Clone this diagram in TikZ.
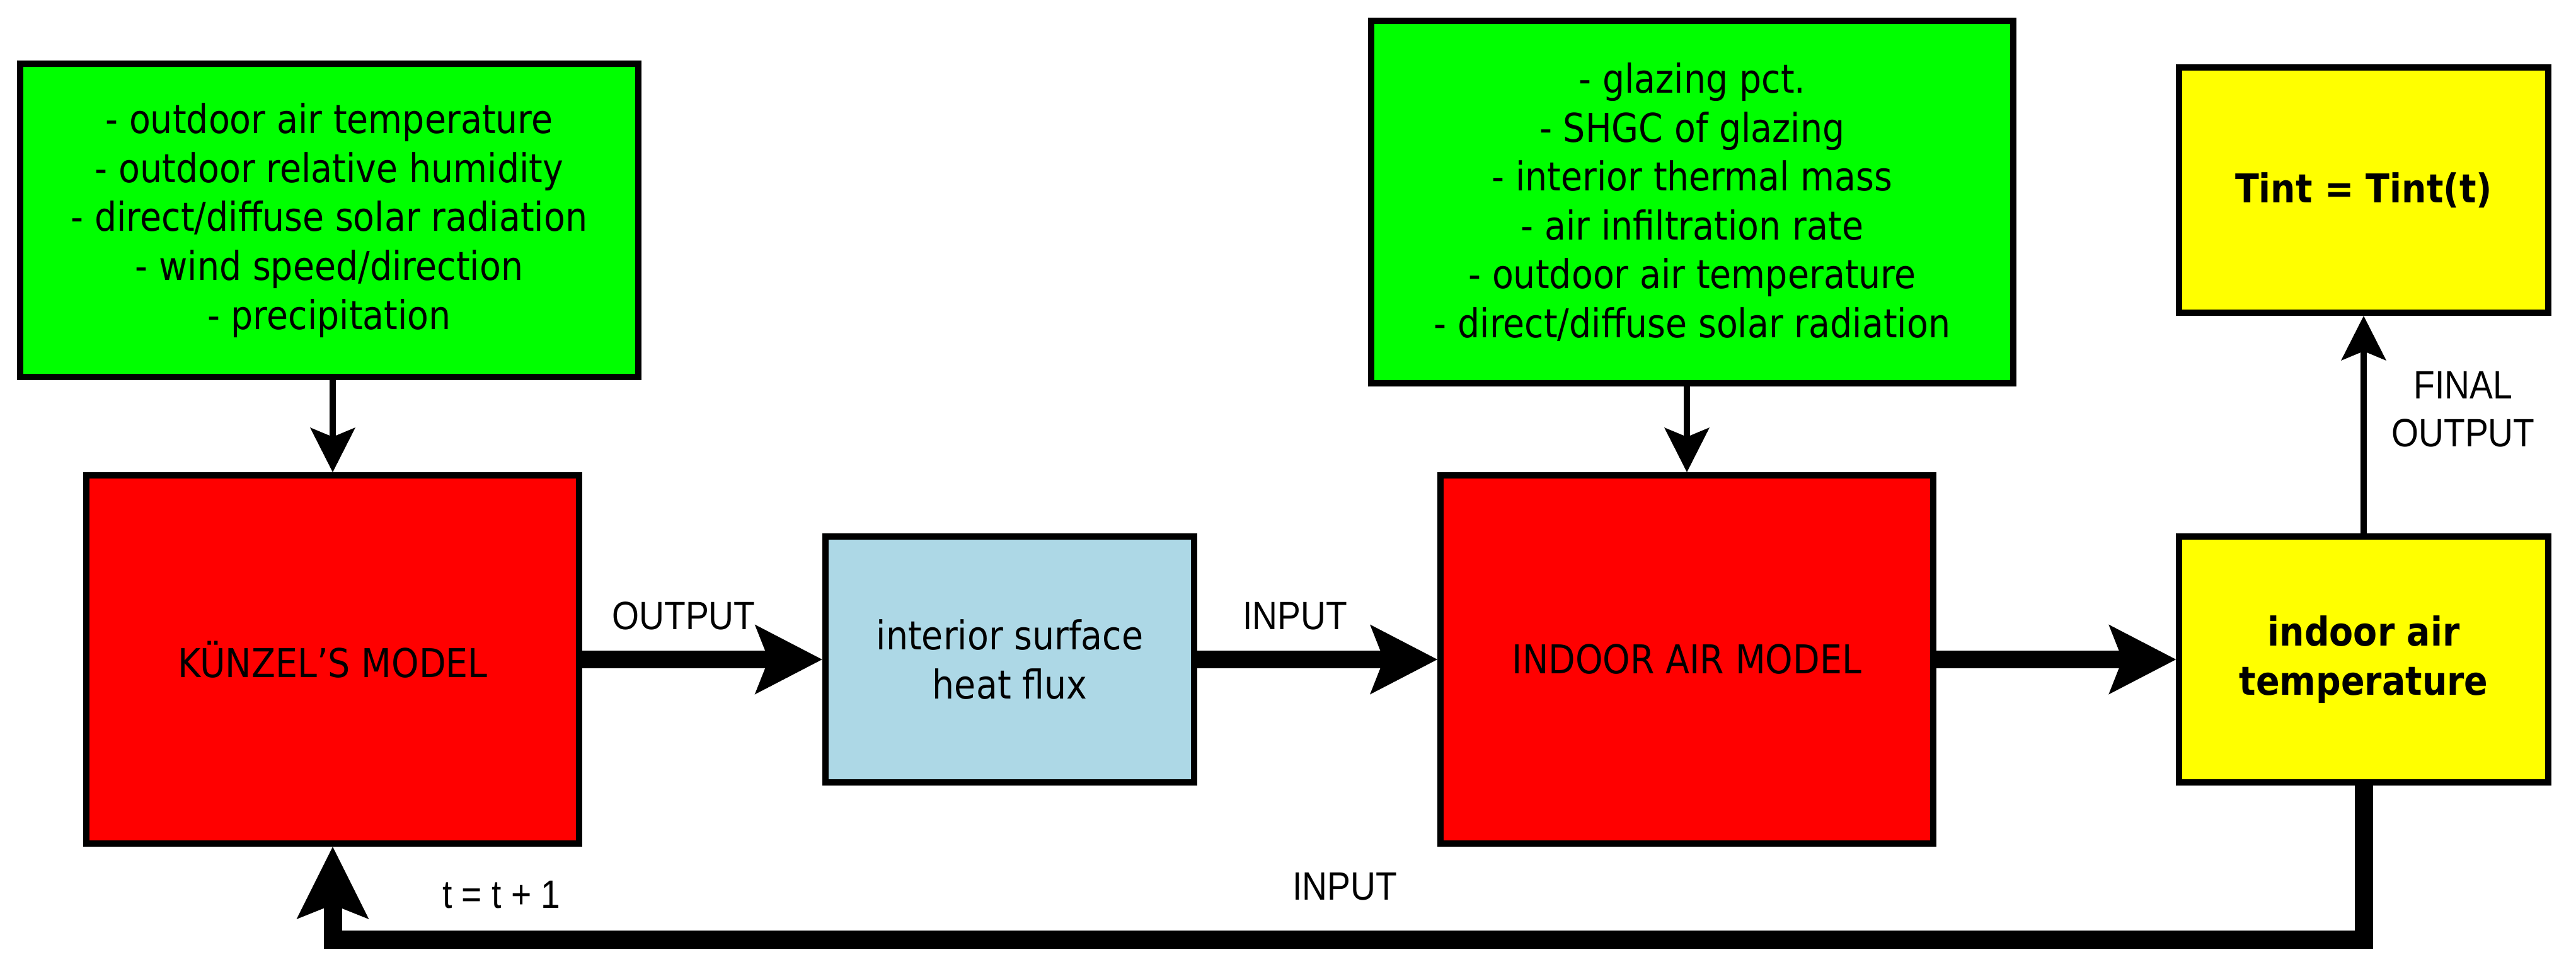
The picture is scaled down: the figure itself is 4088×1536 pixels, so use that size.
\documentclass[tikz,border=0pt]{standalone}
\usepackage{fontspec}
\setmainfont{DejaVu Sans}[FakeStretch=0.88]
\newfontfamily\labfont{Liberation Sans}[FakeStretch=0.88]
\usetikzlibrary{arrows.meta}
\definecolor{cgreen}{RGB}{0,255,0}
\definecolor{cred}{RGB}{255,0,0}
\definecolor{cblue}{RGB}{173,216,230}
\definecolor{cyellow}{RGB}{255,255,0}
\tikzset{
  box/.style={draw=black, line width=2.5pt, inner sep=0pt, align=center,
    font=\fontsize{15.75pt}{19.4pt}\selectfont},
  bigbox/.style={box, minimum width=195.5pt, minimum height=146pt, fill=cred},
  smallbox/.style={box, minimum width=146.4pt, minimum height=97.5pt},
  lab/.style={inner sep=0pt, align=center, font=\labfont\fontsize{15.7pt}{19pt}\selectfont},
  thinarrow/.style={line width=2.4pt, -{Stealth[length=17.75pt, width=18pt, inset=3.75pt, line width=0pt]}},
  thickarrow/.style={line width=7pt, -{Stealth[length=26.75pt, width=27.75pt, inset=5.5pt, line width=0pt]}},
  fbarrow/.style={line width=7.25pt, line join=miter, -{Stealth[length=28.75pt, width=28.75pt, inset=5.75pt, line width=0pt]}}
}
\begin{document}
\begin{tikzpicture}[x=0.25pt, y=-0.25pt]
\useasboundingbox (0,0) rectangle (4088,1536);

% boxes
\node[box, fill=cgreen, minimum width=245.25pt, minimum height=124.25pt] (g1) at (522.5,349.5)
  {- outdoor air temperature\\- outdoor relative humidity\\- direct/diffuse solar radiation\\- wind speed/direction\\- precipitation};
\node[bigbox] (kun) at (528,1046) {K\"UNZEL{\char"0027}S MODEL};
\node[smallbox, fill=cblue] (flux) at (1602.5,1046) {interior surface\\heat flux};
\node[bigbox] (ind) at (2677,1046) {INDOOR AIR MODEL};
\node[box, fill=cgreen, minimum width=254.75pt, minimum height=143.75pt] (g2) at (2685.5,320.5)
  {- glazing pct.\\- SHGC of glazing\\- interior thermal mass\\- air infiltration rate\\- outdoor air temperature\\- direct/diffuse solar radiation};
\node[smallbox, fill=cyellow, font=\bfseries\fontsize{15.75pt}{19.4pt}\selectfont] (yel) at (3751,1046) {indoor air\\temperature};
\node[smallbox, fill=cyellow, minimum height=97.25pt, font=\bfseries\fontsize{15.75pt}{19.4pt}\selectfont] (tint) at (3751,301.5) {Tint = Tint(t)};

% labels
\node[lab, anchor=base] (lout) at (1085,998) {OUTPUT};
\node[lab, anchor=base] (lin1) at (2055,998) {INPUT};
\node[lab, anchor=north] (lfin) at (3909,588) {FINAL\\OUTPUT};
\node[lab, anchor=base] (lt) at (796,1440) {t = t + 1};
\node[lab, anchor=base] (lin2) at (2134,1427) {INPUT};

% connectors
\draw[thinarrow] (kun.north |- g1.south) -- (kun.north);
\draw[thinarrow] (ind.north |- g2.south) -- (ind.north);
\draw[thinarrow] (yel.north) -- (tint.south);
\draw[thickarrow] (kun.east) -- (flux.west);
\draw[thickarrow] (flux.east) -- (ind.west);
\draw[thickarrow] (ind.east) -- (yel.west);
\coordinate (fbR) at (3751,1490);
\draw[fbarrow] (yel.south) -- (fbR) -| (kun.south);
\end{tikzpicture}
\end{document}
